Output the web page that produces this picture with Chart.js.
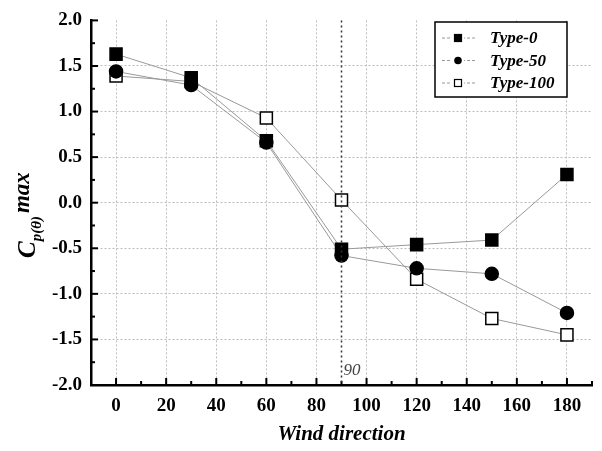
<!DOCTYPE html>
<html>
<head>
<meta charset="utf-8">
<script src="https://cdn.jsdelivr.net/npm/chart.js@4/dist/chart.umd.min.js"></script>
<style>
  html, body { margin: 0; padding: 0; background: #fff; }
  #wrap { width: 602px; height: 451px; position: relative; }
</style>
</head>
<body>
<div id="wrap"><canvas id="chart" width="602" height="451"></canvas></div>
<script>
// --- data ---
const angles = [0, 30, 60, 90, 120, 150, 180];
const type0 = [1.63, 1.37, 0.68, -0.51, -0.46, -0.41, 0.31];
const type50 = [1.44, 1.29, 0.66, -0.58, -0.72, -0.78, -1.21];
const type100 = [1.39, 1.33, 0.93, 0.03, -0.84, -1.27, -1.45];
const seriesNames = ['Type-0', 'Type-50', 'Type-100'];

const xTicks = [0, 20, 40, 60, 80, 100, 120, 140, 160, 180];
const yTicks = [-2.0, -1.5, -1.0, -0.5, 0.0, 0.5, 1.0, 1.5, 2.0];
const markAngle = 90;

const SERIF = '"Liberation Serif", "DejaVu Serif", serif';

function toPoints(vals) {
  return angles.map((a, i) => ({ x: a, y: vals[i] }));
}

// inward ticks, the 90-degree marker, y title and the boxed legend
const decorations = {
  id: 'decorations',
  afterDraw(chart) {
    const { ctx, chartArea: area, scales: { x, y } } = chart;
    ctx.save();

    // inward major / minor ticks
    ctx.strokeStyle = '#000';
    ctx.lineWidth = 2;
    for (let v = 0; v <= 190; v += 10) {
      const px = x.getPixelForValue(v);
      const len = v % 20 === 0 ? 7 : 4;
      ctx.beginPath();
      ctx.moveTo(px, area.bottom);
      ctx.lineTo(px, area.bottom - len);
      ctx.stroke();
    }
    for (let v = -2; v <= 2.001; v += 0.25) {
      const py = y.getPixelForValue(v);
      const len = Math.abs(v * 2 - Math.round(v * 2)) < 0.01 ? 7 : 4;
      ctx.beginPath();
      ctx.moveTo(area.left, py);
      ctx.lineTo(area.left + len, py);
      ctx.stroke();
    }

    // dotted line at 90
    const mx = x.getPixelForValue(markAngle);
    ctx.setLineDash([2, 3]);
    ctx.lineWidth = 1.5;
    ctx.strokeStyle = '#333';
    ctx.beginPath();
    ctx.moveTo(mx, area.top);
    ctx.lineTo(mx, area.bottom);
    ctx.stroke();
    ctx.setLineDash([]);
    ctx.fillStyle = '#444';
    ctx.font = 'italic 17px ' + SERIF;
    ctx.textAlign = 'left';
    ctx.textBaseline = 'alphabetic';
    ctx.fillText(String(markAngle), mx + 2, area.bottom - 10);

    // y axis title: C_p(θ) max
    ctx.save();
    ctx.translate(35, 258);
    ctx.rotate(-Math.PI / 2);
    ctx.fillStyle = '#000';
    ctx.textAlign = 'left';
    ctx.font = 'italic bold 25px ' + SERIF;
    ctx.fillText('C', 0, 0);
    let off = ctx.measureText('C').width;
    ctx.font = 'italic bold 15px ' + SERIF;
    ctx.fillText('p(\u03b8)', off, 6);
    off += ctx.measureText('p(\u03b8)').width + 3;
    ctx.font = 'italic bold 23px ' + SERIF;
    ctx.fillText('max', off, -6);
    ctx.restore();

    // legend box
    const lx = 435, ly = 22, lw = 132, lh = 75;
    ctx.fillStyle = '#fff';
    ctx.fillRect(lx, ly, lw, lh);
    ctx.strokeStyle = '#000';
    ctx.lineWidth = 1.5;
    ctx.strokeRect(lx, ly, lw, lh);
    chart.data.datasets.forEach((ds, i) => {
      const ry = ly + 16 + i * 22.5;
      ctx.strokeStyle = '#999';
      ctx.lineWidth = 1;
      ctx.setLineDash([3, 2]);
      ctx.beginPath();
      ctx.moveTo(lx + 7, ry);
      ctx.lineTo(lx + 40, ry);
      ctx.stroke();
      ctx.setLineDash([]);
      const cx = lx + 27 - 4;
      ctx.fillStyle = '#fff';
      ctx.fillRect(cx - 6, ry - 5, 12, 10);
      ctx.fillStyle = ds.pointBackgroundColor;
      ctx.strokeStyle = '#000';
      ctx.lineWidth = 1.2;
      if (ds.pointStyle === 'circle') {
        ctx.beginPath();
        ctx.arc(cx, ry, 3.8, 0, Math.PI * 2);
        ctx.fill();
      } else {
        ctx.fillRect(cx - 3.5, ry - 3.5, 7, 7);
        ctx.strokeRect(cx - 3.5, ry - 3.5, 7, 7);
      }
      ctx.fillStyle = '#000';
      ctx.font = 'italic bold 17px ' + SERIF;
      ctx.textBaseline = 'middle';
      ctx.fillText(ds.label, lx + 55, ry + 1);
    });

    ctx.restore();
  }
};

const seriesStyles = [
  { data: type0, pointStyle: 'rect', fill: '#000', radius: 8.5 },
  { data: type50, pointStyle: 'circle', fill: '#000', radius: 6.5 },
  { data: type100, pointStyle: 'rect', fill: '#fff', radius: 8.5 },
];

new Chart(document.getElementById('chart'), {
  type: 'line',
  data: {
    datasets: seriesStyles.map((s, i) => ({
      label: seriesNames[i],
      data: toPoints(s.data),
      borderColor: '#999',
      borderWidth: 1,
      pointStyle: s.pointStyle,
      pointRadius: s.radius,
      pointBackgroundColor: s.fill,
      pointBorderColor: '#000',
      pointBorderWidth: 1.5,
      tension: 0,
      fill: false,
    }))
  },
  options: {
    responsive: false,
    animation: false,
    layout: { padding: { left: 0, right: 9, top: 17, bottom: 0 } },
    plugins: {
      legend: { display: false },
      tooltip: { enabled: false }
    },
    scales: {
      x: {
        type: 'linear',
        min: -10,
        max: 190,
        afterBuildTicks: scale => { scale.ticks = xTicks.map(v => ({ value: v })); },
        afterFit: scale => { scale.height = 66; },
        grid: {
          drawTicks: false,
          color: ctx => (ctx.tick && ctx.tick.value >= 0) ? '#bdbdbd' : 'transparent',
          lineWidth: 1
        },
        border: { display: true, color: '#000', width: 2.5, dash: [2, 2] },
        ticks: {
          padding: 10,
          color: '#000',
          maxRotation: 0,
          font: { family: SERIF, size: 19, weight: 'bold' }
        },
        title: {
          display: true,
          text: 'Wind direction',
          color: '#000',
          padding: { top: 4 },
          font: { family: SERIF, size: 21, weight: 'bold', style: 'italic' }
        }
      },
      y: {
        min: -2,
        max: 2,
        afterBuildTicks: scale => { scale.ticks = yTicks.map(v => ({ value: v })); },
        afterFit: scale => { scale.width = 91; },
        grid: {
          drawTicks: false,
          color: ctx => (ctx.tick && Math.abs(ctx.tick.value) < 1.9) ? '#bdbdbd' : 'transparent',
          lineWidth: 1
        },
        border: { display: true, color: '#000', width: 2.5, dash: [2, 2] },
        ticks: {
          padding: 9,
          color: '#000',
          font: { family: SERIF, size: 19, weight: 'bold' },
          callback: v => v.toFixed(1)
        }
      }
    }
  },
  plugins: [decorations]
});
</script>
</body>
</html>
